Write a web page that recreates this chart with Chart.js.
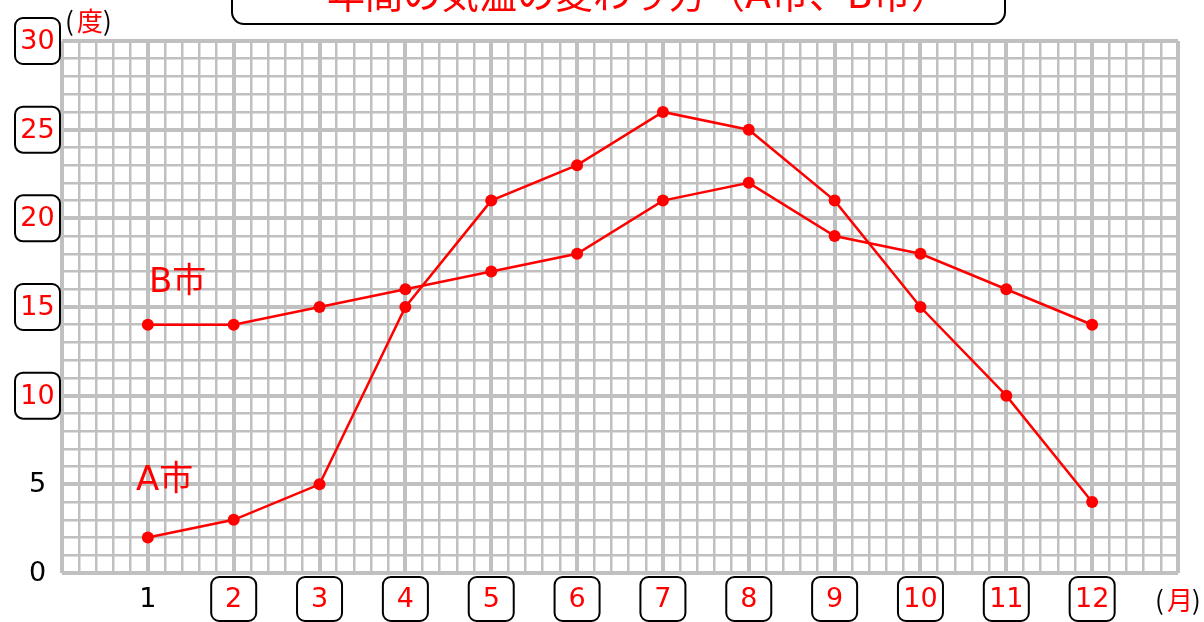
<!DOCTYPE html>
<html lang="ja">
<head>
<meta charset="UTF-8">
<title>年間の気温の変わり方</title>
<script src="https://cdn.jsdelivr.net/npm/chart.js"></script>
<style>
  html, body { margin: 0; padding: 0; background: #fff; }
  .wrap { width: 1204px; height: 622px; position: relative; }
</style>
</head>
<body>
<div class="wrap"><canvas id="c"></canvas></div>
<script>
const months = [1, 2, 3, 4, 5, 6, 7, 8, 9, 10, 11, 12];
const cityA = [2, 3, 5, 15, 21, 23, 26, 25, 21, 15, 10, 4];
const cityB = [14, 14, 15, 16, 17, 18, 21, 22, 19, 18, 16, 14];
const yTicks = [0, 5, 10, 15, 20, 25, 30];
const title = '年間の気温の変わり方（A市、B市）';

const RED = '#ff0000';
const GRID = '#c0c0c0';
const FONT = '"DejaVu Sans", "Noto Sans CJK JP", sans-serif';
const JFONT = '"Noto Sans CJK JP", sans-serif';

function roundBox(ctx, x, y, w, h, r) {
  ctx.beginPath();
  ctx.roundRect(x, y, w, h, r);
  ctx.lineWidth = 2;
  ctx.strokeStyle = '#000';
  ctx.stroke();
}

const labelsPlugin = {
  id: 'labels',
  afterDraw(chart) {
    const ctx = chart.ctx;
    const xs = chart.scales.x, ys = chart.scales.y;
    ctx.save();
    ctx.textAlign = 'center';
    ctx.textBaseline = 'middle';
    ctx.font = '27px ' + FONT;

    // y tick labels
    yTicks.forEach(v => {
      const y = ys.getPixelForValue(v);
      if (v >= 10) {
        roundBox(ctx, 15, y - 23, 45, 46, 8);
        ctx.fillStyle = RED;
      } else {
        ctx.fillStyle = '#000';
      }
      ctx.fillText(String(v), 37.5, y + 1);
    });

    // x tick labels
    months.forEach(m => {
      const x = xs.getPixelForValue(m);
      if (m >= 2) {
        roundBox(ctx, x - 22.5, 577, 45, 44, 8);
        ctx.fillStyle = RED;
      } else {
        ctx.fillStyle = '#000';
      }
      ctx.fillText(String(m), x, 600);
    });

    // unit labels
    ctx.font = '26px ' + JFONT;
    ctx.textAlign = 'left';
    ctx.fillStyle = '#000';
    ctx.fillText('(', 65, 21);
    ctx.fillStyle = RED;
    ctx.fillText('度', 77, 21);
    ctx.fillStyle = '#000';
    ctx.fillText(')', 103, 21);

    ctx.fillStyle = '#000';
    ctx.fillText('(', 1155, 600);
    ctx.fillStyle = RED;
    ctx.fillText('月', 1167, 600);
    ctx.fillStyle = '#000';
    ctx.fillText(')', 1192, 600);

    // series names
    ctx.font = '34px ' + FONT;
    ctx.fillStyle = RED;
    ctx.fillText('B市', 149, 283);
    ctx.fillText('A市', 136, 481);

    // title box (cut off at the top)
    roundBox(ctx, 232, -30, 773, 54, 12);
    ctx.font = '38px ' + FONT;
    ctx.textAlign = 'center';
    ctx.textBaseline = 'alphabetic';
    ctx.fillStyle = RED;
    ctx.fillText(title, 638, 8);
    ctx.restore();
  }
};

const lineStyle = {
  borderColor: RED,
  backgroundColor: RED,
  pointBackgroundColor: RED,
  pointBorderColor: RED,
  pointRadius: 6,
  pointBorderWidth: 0,
  borderWidth: 2.5,
  fill: false,
  tension: 0
};

new Chart(document.getElementById('c'), {
  type: 'line',
  data: {
    datasets: [
      Object.assign({ label: 'A市', data: months.map((m, i) => ({ x: m, y: cityA[i] })) }, lineStyle),
      Object.assign({ label: 'B市', data: months.map((m, i) => ({ x: m, y: cityB[i] })) }, lineStyle)
    ]
  },
  options: {
    responsive: true,
    maintainAspectRatio: false,
    animation: false,
    layout: { padding: { left: 62, right: 26, top: 41, bottom: 49 } },
    plugins: { legend: { display: false }, tooltip: { enabled: false } },
    scales: {
      x: {
        type: 'linear',
        min: 0,
        max: 13,
        ticks: { display: false, stepSize: 0.2, autoSkip: false, maxTicksLimit: 100 },
        grid: {
          drawTicks: false,
          color: GRID,
          lineWidth: c => (Math.abs(c.tick.value - Math.round(c.tick.value)) < 1e-6 ? 4 : 2.5)
        },
        border: { display: false }
      },
      y: {
        min: 0,
        max: 30,
        ticks: { display: false, stepSize: 1, autoSkip: false },
        grid: {
          drawTicks: false,
          color: GRID,
          lineWidth: c => (c.tick.value % 5 === 0 ? 4 : 2.5)
        },
        border: { display: false }
      }
    }
  },
  plugins: [labelsPlugin]
});
</script>
</body>
</html>
